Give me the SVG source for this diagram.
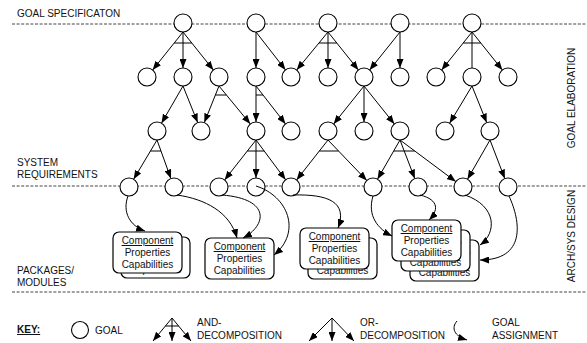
<svg xmlns="http://www.w3.org/2000/svg" width="587" height="343" viewBox="0 0 587 343">
<style>
text{font-family:"Liberation Sans",Arial,sans-serif;font-size:10px;fill:#111}
.dash{stroke:#444;stroke-width:1;stroke-dasharray:3 1.6;fill:none}
.goal{fill:#fff;stroke:#000;stroke-width:1.1}
.e{stroke:#000;stroke-width:1;fill:none;marker-end:url(#ah)}
.n{stroke:#000;stroke-width:1;fill:none}
.bar{stroke:#000;stroke-width:1;fill:none}
.box{fill:#fff;stroke:#000;stroke-width:1.2}
.c{text-anchor:middle}
</style>
<defs>
<marker id="ah" markerUnits="userSpaceOnUse" markerWidth="9" markerHeight="7" refX="9" refY="3.5" orient="auto">
<path d="M0,0 L9,3.5 L0,7 z" fill="#000"/>
</marker>
</defs>

<g id="labels">
<text x="17" y="17">GOAL SPECIFICATON</text>
<text x="17" y="166">SYSTEM</text>
<text x="17" y="178">REQUIREMENTS</text>
<text x="17" y="274">PACKAGES/</text>
<text x="17" y="286">MODULES</text>
<text class="c" transform="translate(575,98) rotate(-90)">GOAL ELABORATION</text>
<text class="c" transform="translate(575,236) rotate(-90)">ARCH/SYS DESIGN</text>
</g>

<g id="levels">
<line class="dash" x1="12" y1="24" x2="587" y2="24"/>
<line class="dash" x1="12" y1="186" x2="587" y2="186"/>
<line class="dash" x1="12" y1="292" x2="587" y2="292"/>
</g>

<g id="connectors">
<line class="e" x1="183" y1="32" x2="152.6" y2="70"/>
<line class="e" x1="183" y1="32" x2="183" y2="68"/>
<line class="e" x1="183" y1="32" x2="213.4" y2="70"/>
<line class="bar" x1="174.2" y1="43" x2="191.8" y2="43"/>
<line class="e" x1="256" y1="32" x2="256" y2="68"/>
<line class="e" x1="256" y1="32" x2="285.5" y2="69.9"/>
<line class="e" x1="328" y1="32" x2="296.7" y2="70"/>
<line class="e" x1="328" y1="32" x2="328" y2="68"/>
<line class="e" x1="328" y1="32" x2="358.4" y2="70"/>
<line class="bar" x1="319" y1="43" x2="336.8" y2="43"/>
<line class="e" x1="400" y1="32" x2="369.6" y2="70"/>
<line class="e" x1="400" y1="32" x2="400" y2="68"/>
<line class="e" x1="472" y1="32" x2="441.6" y2="70"/>
<line class="n" x1="472" y1="32" x2="472" y2="68"/>
<line class="e" x1="472" y1="32" x2="502.4" y2="70"/>
<line class="bar" x1="463.2" y1="43" x2="480.8" y2="43"/>
<line class="e" x1="183" y1="86" x2="161.5" y2="123.2"/>
<line class="e" x1="183" y1="86" x2="197.7" y2="122.6"/>
<line class="e" x1="219" y1="86" x2="204.3" y2="122.6"/>
<line class="e" x1="219" y1="86" x2="250.3" y2="124"/>
<line class="bar" x1="215.4" y1="95" x2="226.4" y2="95"/>
<line class="e" x1="256" y1="86" x2="256" y2="122"/>
<line class="e" x1="256" y1="86" x2="285.5" y2="123.9"/>
<line class="bar" x1="256" y1="95" x2="263" y2="95"/>
<line class="e" x1="364" y1="86" x2="333.6" y2="124"/>
<line class="e" x1="364" y1="86" x2="364" y2="122"/>
<line class="e" x1="364" y1="86" x2="394.4" y2="124"/>
<line class="e" x1="472" y1="86" x2="449.6" y2="123.3"/>
<line class="e" x1="472" y1="86" x2="486.7" y2="122.6"/>
<line class="e" x1="157" y1="140" x2="133.6" y2="179.3"/>
<line class="e" x1="157" y1="140" x2="170.9" y2="178.5"/>
<line class="bar" x1="150.4" y1="151" x2="161" y2="151"/>
<line class="e" x1="256" y1="140" x2="224.6" y2="179.9"/>
<line class="e" x1="256" y1="140" x2="256" y2="178"/>
<line class="e" x1="256" y1="140" x2="285.6" y2="179.8"/>
<line class="bar" x1="247.3" y1="151" x2="264.2" y2="151"/>
<line class="e" x1="328" y1="140" x2="296.6" y2="179.9"/>
<line class="e" x1="328" y1="140" x2="366.8" y2="180.5"/>
<line class="bar" x1="319.3" y1="151" x2="338.5" y2="151"/>
<line class="e" x1="400" y1="140" x2="377.5" y2="179.2"/>
<line class="e" x1="400" y1="140" x2="414.8" y2="178.6"/>
<line class="e" x1="400" y1="140" x2="455.8" y2="181.6"/>
<line class="bar" x1="393.7" y1="151" x2="414.7" y2="151"/>
<line class="e" x1="490" y1="140" x2="467.5" y2="179.2"/>
<line class="e" x1="490" y1="140" x2="504.8" y2="178.6"/>
</g>

<g id="nodes">
<g id="g0a"><circle class="goal" cx="183" cy="23" r="9"/></g>
<g id="g0b"><circle class="goal" cx="256" cy="23" r="9"/></g>
<g id="g0c"><circle class="goal" cx="328" cy="23" r="9"/></g>
<g id="g0d"><circle class="goal" cx="400" cy="23" r="9"/></g>
<g id="g0e"><circle class="goal" cx="472" cy="23" r="9"/></g>

<g id="g1a"><circle class="goal" cx="147" cy="77" r="9"/></g>
<g id="g1b"><circle class="goal" cx="183" cy="77" r="9"/></g>
<g id="g1c"><circle class="goal" cx="219" cy="77" r="9"/></g>
<g id="g1d"><circle class="goal" cx="256" cy="77" r="9"/></g>
<g id="g1e"><circle class="goal" cx="291" cy="77" r="9"/></g>
<g id="g1f"><circle class="goal" cx="328" cy="77" r="9"/></g>
<g id="g1g"><circle class="goal" cx="364" cy="77" r="9"/></g>
<g id="g1h"><circle class="goal" cx="400" cy="77" r="9"/></g>
<g id="g1i"><circle class="goal" cx="436" cy="77" r="9"/></g>
<g id="g1j"><circle class="goal" cx="472" cy="77" r="9"/></g>
<g id="g1k"><circle class="goal" cx="508" cy="77" r="9"/></g>

<g id="g2a"><circle class="goal" cx="157" cy="131" r="9"/></g>
<g id="g2b"><circle class="goal" cx="201" cy="131" r="9"/></g>
<g id="g2c"><circle class="goal" cx="256" cy="131" r="9"/></g>
<g id="g2d"><circle class="goal" cx="291" cy="131" r="9"/></g>
<g id="g2e"><circle class="goal" cx="328" cy="131" r="9"/></g>
<g id="g2f"><circle class="goal" cx="364" cy="131" r="9"/></g>
<g id="g2g"><circle class="goal" cx="400" cy="131" r="9"/></g>
<g id="g2h"><circle class="goal" cx="445" cy="131" r="9"/></g>
<g id="g2i"><circle class="goal" cx="490" cy="131" r="9"/></g>

<g id="g3a"><circle class="goal" cx="129" cy="187" r="9"/></g>
<g id="g3b"><circle class="goal" cx="174" cy="187" r="9"/></g>
<g id="g3c"><circle class="goal" cx="219" cy="187" r="9"/></g>
<g id="g3d"><circle class="goal" cx="256" cy="187" r="9"/></g>
<g id="g3e"><circle class="goal" cx="291" cy="187" r="9"/></g>
<g id="g3f"><circle class="goal" cx="373" cy="187" r="9"/></g>
<g id="g3g"><circle class="goal" cx="418" cy="187" r="9"/></g>
<g id="g3h"><circle class="goal" cx="463" cy="187" r="9"/></g>
<g id="g3i"><circle class="goal" cx="508" cy="187" r="9"/></g>
</g>

<g id="components">
<g id="compA2" transform="translate(121,237)"><rect class="box" width="69" height="41" rx="6"/><text class="c" x="34.5" y="12" text-decoration="underline">Component</text><text class="c" x="34.5" y="24">Properties</text><text class="c" x="34.5" y="36">Capabilities</text></g>
<g id="compA1" transform="translate(113,232)"><rect class="box" width="69" height="41" rx="6"/><text class="c" x="34.5" y="12" text-decoration="underline">Component</text><text class="c" x="34.5" y="24">Properties</text><text class="c" x="34.5" y="36">Capabilities</text></g>
<g id="compB" transform="translate(205,238)"><rect class="box" width="69" height="41" rx="6"/><text class="c" x="34.5" y="12" text-decoration="underline">Component</text><text class="c" x="34.5" y="24">Properties</text><text class="c" x="34.5" y="36">Capabilities</text></g>
<g id="compC2" transform="translate(308,238)"><rect class="box" width="69" height="41" rx="6"/><text class="c" x="34.5" y="12" text-decoration="underline">Component</text><text class="c" x="34.5" y="24">Properties</text><text class="c" x="34.5" y="36">Capabilities</text></g>
<g id="compC1" transform="translate(300,228)"><rect class="box" width="69" height="41" rx="6"/><text class="c" x="34.5" y="12" text-decoration="underline">Component</text><text class="c" x="34.5" y="24">Properties</text><text class="c" x="34.5" y="36">Capabilities</text></g>
<g id="compD3" transform="translate(410,240)"><rect class="box" width="69" height="41" rx="6"/><text class="c" x="34.5" y="12" text-decoration="underline">Component</text><text class="c" x="34.5" y="24">Properties</text><text class="c" x="34.5" y="36">Capabilities</text></g>
<g id="compD2" transform="translate(401,230)"><rect class="box" width="69" height="41" rx="6"/><text class="c" x="34.5" y="12" text-decoration="underline">Component</text><text class="c" x="34.5" y="24">Properties</text><text class="c" x="34.5" y="36">Capabilities</text></g>
<g id="compD1" transform="translate(392,220)"><rect class="box" width="69" height="41" rx="6"/><text class="c" x="34.5" y="12" text-decoration="underline">Component</text><text class="c" x="34.5" y="24">Properties</text><text class="c" x="34.5" y="36">Capabilities</text></g>
</g>

<g id="assignments">
<path class="e" d="M128,196 C122,212 130,226 145,231"/>
<path class="e" d="M177,195 C205,199 230,212 237,238"/>
<path class="e" d="M222,195 C272,199 266,226 243,238"/>
<path class="e" d="M256,186 C288,196 302,232 274,255"/>
<path class="e" d="M293,195 C328,194 348,202 338,228"/>
<path class="e" d="M373,196 C367,216 378,229 392,236"/>
<path class="e" d="M420,195 C440,200 438,211 429,220"/>
<path class="e" d="M465,195 C497,206 497,233 480,245"/>
<path class="e" d="M509,196 C521,222 526,260 480,260"/>
</g>

<g id="key">
<text x="17" y="333" font-weight="bold" text-decoration="underline">KEY:</text>
<circle class="goal" cx="80" cy="330" r="8.5"/>
<text x="95" y="334">GOAL</text>
<line class="e" x1="172" y1="318" x2="153" y2="341"/>
<line class="e" x1="172" y1="318" x2="172" y2="341"/>
<line class="e" x1="172" y1="318" x2="191" y2="341"/>
<line class="bar" x1="165.4" y1="326" x2="178.6" y2="326"/>
<text x="197" y="325.5">AND-</text>
<text x="197" y="338.5">DECOMPOSITION</text>
<line class="e" x1="332" y1="318" x2="309" y2="341"/>
<line class="e" x1="332" y1="318" x2="332" y2="341"/>
<line class="e" x1="332" y1="318" x2="354" y2="341"/>
<text x="360" y="325.5">OR-</text>
<text x="360" y="338.5">DECOMPOSITION</text>
<path class="e" d="M457,321 C451,328 454,336 467,340"/>
<text x="492" y="325.5">GOAL</text>
<text x="492" y="338.5">ASSIGNMENT</text>
</g>
</svg>
